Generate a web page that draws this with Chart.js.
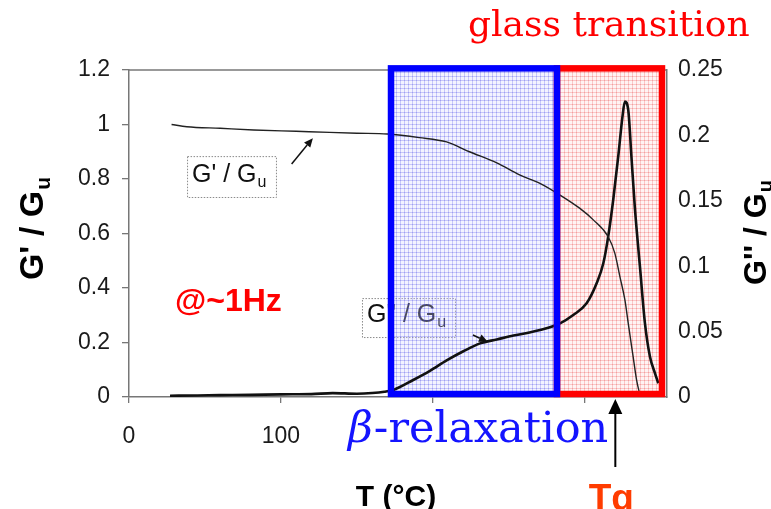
<!DOCTYPE html>
<html>
<head>
<meta charset="utf-8">
<script src="https://cdn.jsdelivr.net/npm/chart.js@4.4.1/dist/chart.umd.min.js"></script>
<style>
  html, body { margin: 0; padding: 0; background: #fff; }
  canvas { display: block; }
</style>
</head>
<body>
<canvas id="dma" width="771" height="509"></canvas>
<script>
// Storage modulus G'/Gu (left axis) against temperature in °C
const storageTemp = [28, 38, 60, 82, 110, 132, 150, 170, 191, 209, 224, 242, 257, 270.4, 283.6, 296.7, 305.5, 315.3, 319.7, 323.0, 326.3, 328.5, 331.4, 334.0, 336.2];
const storageModulus = [1.0, 0.992, 0.986, 0.980, 0.975, 0.971, 0.968, 0.965, 0.952, 0.936, 0.900, 0.859, 0.815, 0.784, 0.741, 0.692, 0.650, 0.588, 0.527, 0.442, 0.356, 0.270, 0.160, 0.062, 0.007];

// Loss modulus G''/Gu (right axis) against temperature in °C
const lossTemp = [27, 45, 60, 80, 100, 120, 134, 150, 160, 168, 174, 187, 198, 209, 220, 231, 242, 253, 262, 270.4, 283.6, 292.3, 301.1, 307.7, 312.1, 315.3, 318.6, 321.9, 324.7, 326.3, 328.5, 330.6, 332.8, 336.2, 339.5, 342.8, 346.1, 348.3];
const lossModulus = [0.001, 0.0012, 0.0014, 0.0016, 0.002, 0.0022, 0.003, 0.0025, 0.003, 0.004, 0.0054, 0.013, 0.020, 0.028, 0.035, 0.041, 0.044, 0.047, 0.049, 0.0512, 0.0563, 0.0627, 0.0716, 0.0869, 0.1022, 0.1226, 0.1506, 0.1837, 0.2143, 0.2258, 0.2194, 0.1837, 0.1455, 0.0996, 0.0563, 0.0308, 0.0181, 0.0105];

// Axis ticks
const tempTicks = [0, 100, 200, 300];
const tempTickLabels = ['0', '100', '', ''];
const storageTicks = [0, 0.2, 0.4, 0.6, 0.8, 1, 1.2];
const lossTicks = [0, 0.05, 0.1, 0.15, 0.2, 0.25];

// Temperature windows of the two relaxations, and the glass transition
const betaRange = [172.4, 281.6];
const glassRange = [281.6, 350.7];
const glassTemp = 320;

const SANS = '"Liberation Sans", Arial, sans-serif';
const SERIF = '"DejaVu Serif", serif';

// Curve captions: box corners in (°C, G'/Gu) and pointer arrow from/to
const storageCaption = { t0: 38.2, t1: 96.7, v0: 0.884, v1: 0.734, text: "G' / G", a: [107, 0.855, 121, 0.95] };
const lossCaption = { t0: 153.3, t1: 214.5, v0: 0.363, v1: 0.220, text: "G'' / G", a: [226.3, 0.2275, 236.2, 0.2018] };

function makePattern(ctx, cell, line, dot) {
  const c = document.createElement('canvas');
  c.width = 4; c.height = 4;
  const p = c.getContext('2d');
  p.clearRect(0, 0, 4, 4);
  p.fillStyle = cell; p.fillRect(1, 1, 3, 3);
  p.fillStyle = line; p.fillRect(1, 0, 3, 1); p.fillRect(0, 1, 1, 3);
  p.fillStyle = dot; p.fillRect(0, 0, 1, 1);
  return ctx.createPattern(c, 'repeat');
}

// Text with a subscript tail, e.g. G' / G_u
function textWithSub(ctx, main, sub, x, y, size, weight, align) {
  ctx.font = `${weight} ${size}px ${SANS}`;
  const w1 = ctx.measureText(main).width;
  const subSize = Math.round(size * 0.62);
  ctx.font = `${weight} ${subSize}px ${SANS}`;
  const w2 = ctx.measureText(sub).width;
  const sx = align === 'center' ? x - (w1 + w2) / 2 : x;
  ctx.textAlign = 'left';
  ctx.textBaseline = 'alphabetic';
  ctx.font = `${weight} ${size}px ${SANS}`;
  ctx.fillText(main, sx, y);
  ctx.font = `${weight} ${subSize}px ${SANS}`;
  ctx.fillText(sub, sx + w1 + 1, y + size * 0.2);
}

function arrow(ctx, x1, y1, x2, y2, head, half, width) {
  const ang = Math.atan2(y2 - y1, x2 - x1);
  const bx = x2 - head * Math.cos(ang), by = y2 - head * Math.sin(ang);
  ctx.lineWidth = width;
  ctx.beginPath(); ctx.moveTo(x1, y1); ctx.lineTo(bx, by); ctx.stroke();
  ctx.beginPath();
  ctx.moveTo(x2, y2);
  ctx.lineTo(bx + half * Math.sin(ang), by - half * Math.cos(ang));
  ctx.lineTo(bx - half * Math.sin(ang), by + half * Math.cos(ang));
  ctx.closePath(); ctx.fill();
}

function captionBox(ctx, x, y, c) {
  const left = x.getPixelForValue(c.t0), right = x.getPixelForValue(c.t1);
  const top = y.getPixelForValue(c.v0), bottom = y.getPixelForValue(c.v1);
  ctx.save();
  ctx.fillStyle = '#fff';
  ctx.fillRect(left, top, right - left, bottom - top);
  ctx.setLineDash([1.5, 1.5]);
  ctx.strokeStyle = '#8a8a8a';
  ctx.lineWidth = 1;
  ctx.strokeRect(left + 0.5, top + 0.5, right - left, bottom - top);
  ctx.setLineDash([]);
  ctx.fillStyle = '#111';
  textWithSub(ctx, c.text, 'u', left + 5, bottom - 15, 25, 'normal', 'left');
  ctx.restore();
}

function captionArrow(ctx, x, y, c) {
  ctx.save();
  ctx.fillStyle = '#111'; ctx.strokeStyle = '#111';
  arrow(ctx, x.getPixelForValue(c.a[0]), y.getPixelForValue(c.a[1]),
        x.getPixelForValue(c.a[2]), y.getPixelForValue(c.a[3]), 9, 4, 1.5);
  ctx.restore();
}

function windowRects(chart) {
  const { scales: { x, y } } = chart;
  const top = y.getPixelForValue(1.206), bottom = y.getPixelForValue(0.011);
  return {
    top, bottom,
    b0: x.getPixelForValue(betaRange[0]), b1: x.getPixelForValue(betaRange[1]),
    g0: x.getPixelForValue(glassRange[0]), g1: x.getPixelForValue(glassRange[1])
  };
}

const overlay = {
  id: 'overlay',
  beforeDraw(chart) {
    const c = chart.ctx;
    c.save(); c.fillStyle = '#fff'; c.fillRect(0, 0, chart.width, chart.height); c.restore();
  },
  beforeDatasetsDraw(chart) {
    const { ctx, scales: { x, y } } = chart;
    captionBox(ctx, x, y, storageCaption);
    captionBox(ctx, x, y, lossCaption);
    // shaded temperature windows, under the curves
    const r = windowRects(chart);
    ctx.save();
    ctx.fillStyle = makePattern(ctx, 'rgba(215,215,255,0.3)', 'rgba(130,130,242,0.45)', 'rgba(95,95,232,0.6)');
    ctx.fillRect(r.b0, r.top, r.b1 - r.b0, r.bottom - r.top);
    ctx.fillStyle = makePattern(ctx, 'rgba(255,215,215,0.3)', 'rgba(245,130,130,0.45)', 'rgba(235,95,95,0.6)');
    ctx.fillRect(r.g0, r.top, r.g1 - r.g0, r.bottom - r.top);
    ctx.restore();
  },
  afterDatasetsDraw(chart) {
    const { ctx, chartArea: a, scales: { x, y } } = chart;
    ctx.save();
    // frame top edge
    ctx.strokeStyle = '#777'; ctx.lineWidth = 1.5;
    ctx.beginPath(); ctx.moveTo(a.left, a.top); ctx.lineTo(a.right, a.top); ctx.stroke();
    captionArrow(ctx, x, y, storageCaption);
    captionArrow(ctx, x, y, lossCaption);
    // window outlines
    const r = windowRects(chart);
    ctx.lineWidth = 6.5;
    ctx.strokeStyle = '#ff0000';
    ctx.strokeRect(r.g0, r.top, r.g1 - r.g0, r.bottom - r.top);
    ctx.strokeStyle = '#0000ff';
    ctx.strokeRect(r.b0, r.top, r.b1 - r.b0, r.bottom - r.top);
    ctx.restore();
  },
  afterDraw(chart) {
    const { ctx, scales: { x } } = chart;
    ctx.save();
    ctx.fillStyle = '#000';
    // axis titles
    ctx.save(); ctx.translate(43, 229); ctx.rotate(-Math.PI / 2);
    textWithSub(ctx, "G' / G", 'u', 0, 0, 34, 'bold', 'center'); ctx.restore();
    ctx.save(); ctx.translate(766, 233); ctx.rotate(-Math.PI / 2);
    textWithSub(ctx, "G'' / G", 'u', 0, 0, 32, 'bold', 'center'); ctx.restore();
    ctx.font = `bold 30px ${SANS}`; ctx.textAlign = 'center'; ctx.textBaseline = 'alphabetic';
    ctx.fillText('T (°C)', 396, 506);

    // region captions
    ctx.fillStyle = '#ff0000';
    ctx.font = `36px ${SERIF}`; ctx.textAlign = 'left';
    ctx.fillText('glass transition', 468, 36);
    ctx.fillStyle = '#1414ff';
    ctx.font = `italic 43px ${SERIF}`;
    ctx.fillText('β', 348, 442);
    const wb = ctx.measureText('β').width;
    ctx.font = `43px ${SERIF}`;
    ctx.fillText('-relaxation', 348 + wb + 1, 442);

    // frequency note
    ctx.fillStyle = '#ff0000';
    ctx.font = `bold 32px ${SANS}`;
    ctx.fillText('@~1Hz', 175, 311);

    // Tg marker
    const tx = x.getPixelForValue(glassTemp);
    ctx.fillStyle = '#000'; ctx.strokeStyle = '#000';
    arrow(ctx, tx, 467, tx, 399, 15, 7, 2);
    ctx.fillStyle = '#ff3c00';
    ctx.font = `bold 37px ${SANS}`; ctx.textAlign = 'center';
    ctx.fillText('Tg', tx - 4, 510);
    ctx.restore();
  }
};

const tickFont = { family: 'Liberation Sans', size: 23 };
const fmt = v => String(+Number(v).toFixed(2));

new Chart(document.getElementById('dma'), {
  type: 'line',
  data: {
    datasets: [
      {
        label: "G' / Gu",
        data: storageTemp.map((t, i) => ({ x: t, y: storageModulus[i] })),
        yAxisID: 'y',
        borderColor: '#222', borderWidth: 1.4,
        pointRadius: 0, fill: false, cubicInterpolationMode: 'monotone'
      },
      {
        label: "G'' / Gu",
        data: lossTemp.map((t, i) => ({ x: t, y: lossModulus[i] })),
        yAxisID: 'y2',
        borderColor: '#111', borderWidth: 2.6,
        pointRadius: 0, fill: false, cubicInterpolationMode: 'monotone'
      }
    ]
  },
  options: {
    responsive: false,
    animation: false,
    devicePixelRatio: 1,
    layout: { padding: { top: 70, left: 0, right: 0, bottom: 0 } },
    plugins: { legend: { display: false }, tooltip: { enabled: false } },
    scales: {
      x: {
        type: 'linear', position: 'bottom', min: 0, max: 354,
        afterFit(s) { s.height = 112; },
        afterBuildTicks(s) { s.ticks = tempTicks.map(v => ({ value: v })); },
        ticks: {
          callback: (v) => tempTickLabels[tempTicks.indexOf(v)] ?? '',
          font: tickFont, color: '#1a1a1a', padding: 20, maxRotation: 0, autoSkip: false
        },
        grid: { drawOnChartArea: false, tickLength: 6, color: '#777', lineWidth: 1.3 },
        border: { color: '#777', width: 1.5 }
      },
      y: {
        type: 'linear', position: 'left', min: 0, max: 1.2,
        afterFit(s) { s.width = 129; },
        afterBuildTicks(s) { s.ticks = storageTicks.map(v => ({ value: v })); },
        ticks: { callback: fmt, font: tickFont, color: '#1a1a1a', padding: 12 },
        grid: { drawOnChartArea: false, tickLength: 7, color: '#777', lineWidth: 1.3 },
        border: { color: '#777', width: 1.5 }
      },
      y2: {
        type: 'linear', position: 'right', min: 0, max: 0.25,
        afterFit(s) { s.width = 104; },
        afterBuildTicks(s) { s.ticks = lossTicks.map(v => ({ value: v })); },
        ticks: { callback: fmt, font: tickFont, color: '#1a1a1a', padding: 11 },
        grid: { drawOnChartArea: false, drawTicks: false, color: '#777' },
        border: { color: '#777', width: 1.5 }
      }
    }
  },
  plugins: [overlay]
});
</script>
</body>
</html>
